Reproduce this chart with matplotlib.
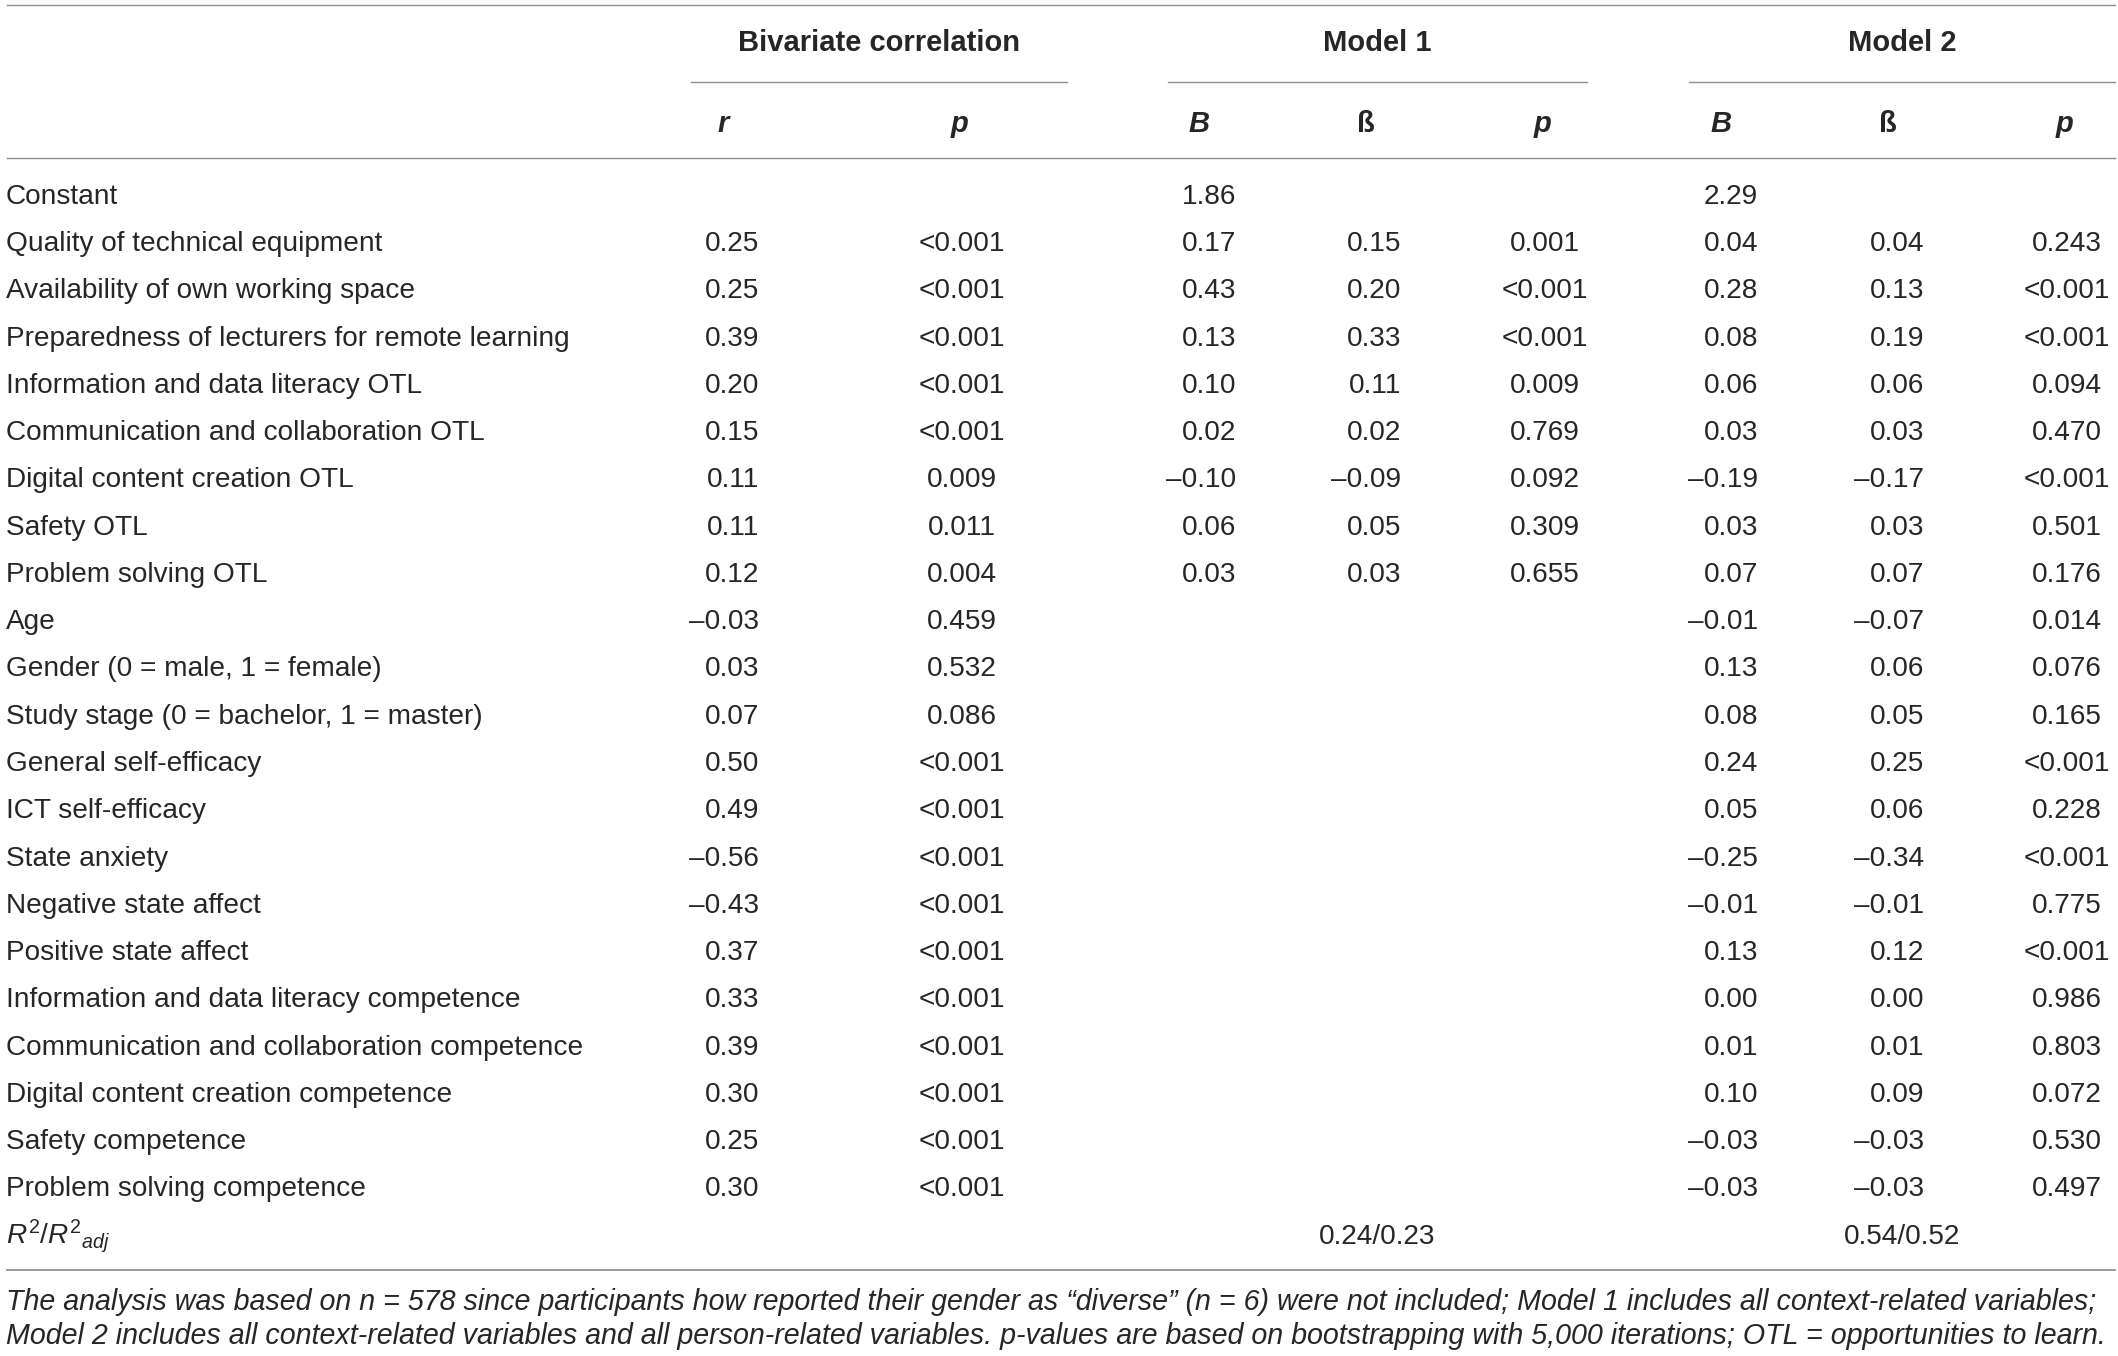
import matplotlib
matplotlib.use("Agg")
import matplotlib.pyplot as plt

plt.rcParams['font.family'] = ['Liberation Sans', 'DejaVu Sans']
plt.rcParams['mathtext.fontset'] = 'custom'
plt.rcParams['mathtext.rm'] = 'Liberation Sans'
plt.rcParams['mathtext.it'] = 'Liberation Sans:italic'

TEXT = '#262626'
RULE = '#8c8c8c'

# ---- table content -------------------------------------------------------
row_labels = [
    "Constant",
    "Quality of technical equipment",
    "Availability of own working space",
    "Preparedness of lecturers for remote learning",
    "Information and data literacy OTL",
    "Communication and collaboration OTL",
    "Digital content creation OTL",
    "Safety OTL",
    "Problem solving OTL",
    "Age",
    "Gender (0 = male, 1 = female)",
    "Study stage (0 = bachelor, 1 = master)",
    "General self-efficacy",
    "ICT self-efficacy",
    "State anxiety",
    "Negative state affect",
    "Positive state affect",
    "Information and data literacy competence",
    "Communication and collaboration competence",
    "Digital content creation competence",
    "Safety competence",
    "Problem solving competence",
]

biv_r = ["", "0.25", "0.25", "0.39", "0.20", "0.15", "0.11", "0.11", "0.12",
         "–0.03", "0.03", "0.07", "0.50", "0.49", "–0.56", "–0.43", "0.37",
         "0.33", "0.39", "0.30", "0.25", "0.30"]
biv_p = ["", "<0.001", "<0.001", "<0.001", "<0.001", "<0.001", "0.009", "0.011",
         "0.004", "0.459", "0.532", "0.086", "<0.001", "<0.001", "<0.001",
         "<0.001", "<0.001", "<0.001", "<0.001", "<0.001", "<0.001", "<0.001"]

m1_B = ["1.86", "0.17", "0.43", "0.13", "0.10", "0.02", "–0.10", "0.06", "0.03"]
m1_beta = ["", "0.15", "0.20", "0.33", "0.11", "0.02", "–0.09", "0.05", "0.03"]
m1_p = ["", "0.001", "<0.001", "<0.001", "0.009", "0.769", "0.092", "0.309", "0.655"]

m2_B = ["2.29", "0.04", "0.28", "0.08", "0.06", "0.03", "–0.19", "0.03", "0.07",
        "–0.01", "0.13", "0.08", "0.24", "0.05", "–0.25", "–0.01", "0.13",
        "0.00", "0.01", "0.10", "–0.03", "–0.03"]
m2_beta = ["", "0.04", "0.13", "0.19", "0.06", "0.03", "–0.17", "0.03", "0.07",
           "–0.07", "0.06", "0.05", "0.25", "0.06", "–0.34", "–0.01", "0.12",
           "0.00", "0.01", "0.09", "–0.03", "–0.03"]
m2_p = ["", "0.243", "<0.001", "<0.001", "0.094", "0.470", "<0.001", "0.501",
        "0.176", "0.014", "0.076", "0.165", "<0.001", "0.228", "<0.001", "0.775",
        "<0.001", "0.986", "0.803", "0.072", "0.530", "0.497"]

r2_label = r"$R^{\mathrm{2}}\mathrm{/}R^{\mathrm{2}}{}_{adj}$"
m1_r2 = "0.24/0.23"
m2_r2 = "0.54/0.52"

groups = ["Bivariate correlation", "Model 1", "Model 2"]
sub_headers = ["r", "p", "B", "ß", "p", "B", "ß", "p"]
sub_italic = [True, True, True, False, True, True, False, True]

footnote = [
    "The analysis was based on n = 578 since participants how reported their gender "
    "as \u201cdiverse\u201d (n = 6) were not included; Model 1 includes all context-related variables;",
    "Model 2 includes all context-related variables and all person-related variables. "
    "p-values are based on bootstrapping with 5,000 iterations; OTL = opportunities to learn.",
]

# ---- layout (pixels) -----------------------------------------------------
W, H = 2118, 1356
FS = 20.2        # body text
FS_HEAD = 21.0   # bold headers
FS_NOTE = 20.65  # italic footnote
group_spans = [(691, 1067), (1168, 1587), (1689, 2115)]
sub_x = [723, 960, 1199, 1366, 1543, 1721, 1888, 2065]
# column anchor x and alignment for body values
col_x = [759, 962, 1236, 1401, 1545, 1758, 1924, 2067]
col_ha = ['right', 'center', 'right', 'right', 'center', 'right', 'right', 'center']
row0 = 194.5
row_h = 47.26
cap_half = 9.4

fig = plt.figure(figsize=(W / 100, H / 100), dpi=100)
ax = fig.add_axes([0, 0, 1, 1])
ax.set_xlim(0, W)
ax.set_ylim(H, 0)
ax.axis('off')

# rules
ax.plot([7, 2115], [5, 5], color=RULE, lw=1.0)
for x0, x1 in group_spans:
    ax.plot([x0, x1], [81.7, 81.7], color=RULE, lw=1.0)
ax.plot([7, 2115], [158.3, 158.3], color=RULE, lw=1.0)
ax.plot([7, 2115], [1270, 1270], color='#9a9a9a', lw=1.4)

# headers
for name, (x0, x1) in zip(groups, group_spans):
    ax.text((x0 + x1) / 2, 50.7, name, ha='center', va='baseline',
            fontsize=FS_HEAD, fontweight='bold', color=TEXT)
for name, x, it in zip(sub_headers, sub_x, sub_italic):
    ax.text(x, 132.5, name, ha='center', va='baseline', fontsize=FS_HEAD,
            fontweight='bold', style='italic' if it else 'normal', color=TEXT)

# body
columns = [biv_r, biv_p, m1_B, m1_beta, m1_p, m2_B, m2_beta, m2_p]
for i, label in enumerate(row_labels):
    yb = row0 + i * row_h + cap_half
    ax.text(6, yb, label, ha='left', va='baseline', fontsize=FS, color=TEXT)
    for col, x, ha in zip(columns, col_x, col_ha):
        if i < len(col) and col[i]:
            ax.text(x, yb, col[i], ha=ha, va='baseline', fontsize=FS, color=TEXT)

yb = row0 + len(row_labels) * row_h + cap_half
ax.text(6, yb, r2_label, ha='left', va='baseline', fontsize=FS, color=TEXT)
ax.text(sum(group_spans[1]) / 2, yb, m1_r2, ha='center', va='baseline',
        fontsize=FS, color=TEXT)
ax.text(sum(group_spans[2]) / 2, yb, m2_r2, ha='center', va='baseline',
        fontsize=FS, color=TEXT)

# footnote
for k, line in enumerate(footnote):
    ax.text(6, 1310 + k * 34, line, ha='left', va='baseline', fontsize=FS_NOTE,
            style='italic', color=TEXT)

fig.savefig("out.png", dpi=100)
